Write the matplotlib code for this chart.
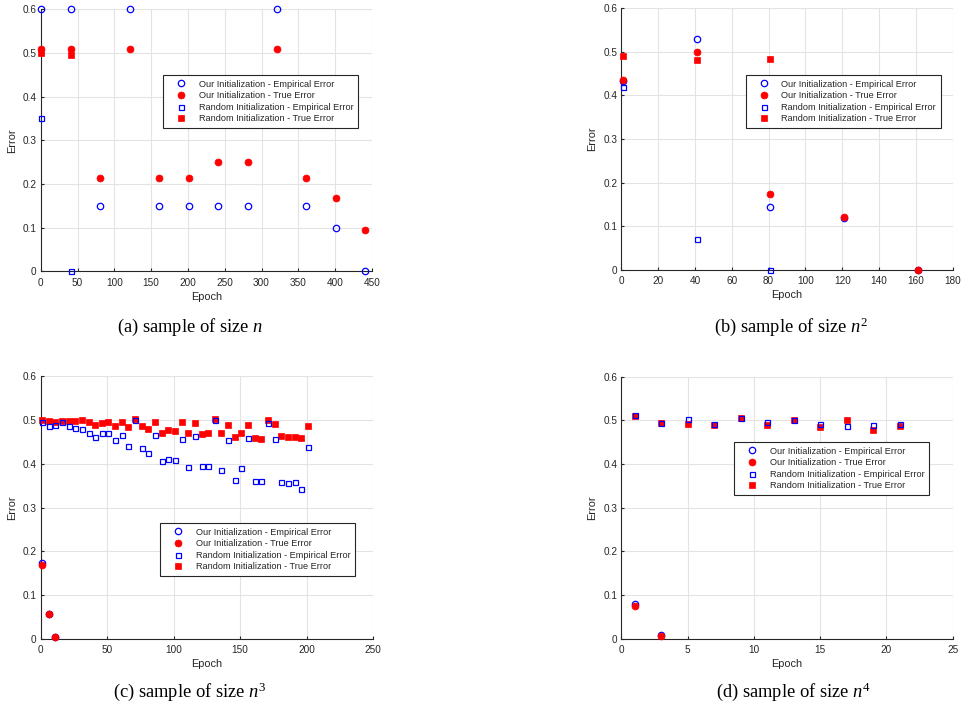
import matplotlib
matplotlib.use("Agg")
import matplotlib.pyplot as plt
from matplotlib.lines import Line2D

plt.rcParams['font.family'] = ['Liberation Sans', 'DejaVu Sans']
plt.rcParams['mathtext.fontset'] = 'custom'
plt.rcParams['mathtext.rm'] = 'Liberation Serif'
plt.rcParams['mathtext.it'] = 'Liberation Serif:italic'

# ---------------- data ----------------
# (a) sample of size n
our_epochs_a = [1, 41, 81, 121, 161, 201, 241, 281, 321, 361, 401, 441]
our_emp_a = [0.6, 0.6, 0.15, 0.6, 0.15, 0.15, 0.15, 0.15, 0.6, 0.15, 0.1, 0.0]
our_true_a = [0.51, 0.51, 0.214, 0.51, 0.214, 0.214, 0.251, 0.251, 0.51, 0.214, 0.167, 0.094]
rand_epochs_a = [1, 41]
rand_emp_a = [0.35, 0.0]
rand_true_a = [0.499, 0.496]

# (b) sample of size n^2
our_epochs_b = [1, 41, 81, 121, 161]
our_emp_b = [0.432, 0.53, 0.145, 0.12, 0.0]
our_true_b = [0.434, 0.50, 0.173, 0.121, 0.001]
rand_epochs_b = [1, 41, 81]
rand_emp_b = [0.418, 0.07, 0.0]
rand_true_b = [0.489, 0.480, 0.483]

# (c) sample of size n^3
our_epochs_c = [1, 6, 11]
our_emp_c = [0.173, 0.056, 0.005]
our_true_c = [0.169, 0.056, 0.005]
rand_epochs_c = [1, 6, 11, 16, 21, 26, 31, 36, 41, 46, 51, 56, 61, 66, 71, 76, 81,
                 86, 91, 96, 101, 106, 111, 116, 121, 126, 131, 136, 141, 146, 151,
                 156, 161, 166, 171, 176, 181, 186, 191, 196, 201]
rand_emp_c = [0.495, 0.485, 0.488, 0.495, 0.485, 0.482, 0.479, 0.470, 0.461, 0.469,
              0.471, 0.453, 0.466, 0.440, 0.500, 0.435, 0.425, 0.466, 0.405, 0.411,
              0.409, 0.457, 0.393, 0.462, 0.395, 0.394, 0.500, 0.385, 0.454, 0.363,
              0.390, 0.458, 0.360, 0.361, 0.493, 0.456, 0.358, 0.357, 0.358, 0.343,
              0.438]
rand_true_c = [0.499, 0.497, 0.496, 0.498, 0.497, 0.497, 0.499, 0.495, 0.489, 0.492,
               0.495, 0.487, 0.494, 0.483, 0.503, 0.486, 0.480, 0.494, 0.471, 0.477,
               0.474, 0.494, 0.470, 0.492, 0.468, 0.471, 0.502, 0.469, 0.489, 0.460,
               0.470, 0.489, 0.459, 0.456, 0.500, 0.490, 0.463, 0.460, 0.460, 0.458,
               0.487]

# (d) sample of size n^4
our_epochs_d = [1, 3]
our_emp_d = [0.079, 0.008]
our_true_d = [0.076, 0.007]
rand_epochs_d = [1, 3, 5, 7, 9, 11, 13, 15, 17, 19, 21]
rand_emp_d = [0.512, 0.495, 0.503, 0.491, 0.505, 0.496, 0.500, 0.492, 0.488, 0.490, 0.492]
rand_true_d = [0.511, 0.495, 0.491, 0.489, 0.505, 0.489, 0.501, 0.485, 0.501, 0.478, 0.486]

labels = ["Our Initialization - Empirical Error",
          "Our Initialization - True Error",
          "Random Initialization - Empirical Error",
          "Random Initialization - True Error"]
y_ticks = [0, 0.1, 0.2, 0.3, 0.4, 0.5, 0.6]
y_ticklabels = ["0", "0.1", "0.2", "0.3", "0.4", "0.5", "0.6"]
x_ticks_a = [0, 50, 100, 150, 200, 250, 300, 350, 400, 450]
x_ticks_b = [0, 20, 40, 60, 80, 100, 120, 140, 160, 180]
x_ticks_c = [0, 50, 100, 150, 200, 250]
x_ticks_d = [0, 5, 10, 15, 20, 25]
captions = ["(a) sample of size $n$", "(b) sample of size $n^2$",
            "(c) sample of size $n^3$", "(d) sample of size $n^4$"]

# ---------------- figure ----------------
W, H = 962, 719
fig = plt.figure(figsize=(W / 100, H / 100), dpi=100)

def px_axes(l, r, t, b):
    return fig.add_axes([l / W, 1 - b / H, (r - l) / W, (b - t) / H])

DARK = '#262626'
BLUE = (0, 0, 1)
RED = (1, 0, 0)

def draw(ax, oe, oemp, otrue, re, remp, rtrue, xticks, leg_xy):
    ax.plot(oe, oemp, linestyle='none', marker='o', ms=4.6, mfc='none', mec=BLUE,
            mew=0.9, clip_on=False, zorder=3)
    ax.plot(oe, otrue, linestyle='none', marker='o', ms=5.0, mfc=RED, mec=RED,
            mew=0.5, clip_on=False, zorder=4)
    ax.plot(re, rtrue, linestyle='none', marker='s', ms=4.0, mfc=RED, mec=RED,
            mew=0.5, clip_on=False, zorder=5)
    ax.plot(re, remp, linestyle='none', marker='s', ms=3.6, mfc='none', mec=BLUE,
            mew=0.9, clip_on=False, zorder=6)
    ax.set_xlim(xticks[0], xticks[-1])
    ax.set_ylim(0, 0.6)
    ax.set_xticks(xticks)
    ax.set_xticklabels([str(v) for v in xticks])
    ax.set_yticks(y_ticks)
    ax.set_yticklabels(y_ticklabels)
    ax.grid(True, color='#e3e3e3', linewidth=0.8)
    ax.set_axisbelow(True)
    for s in ['top', 'right']:
        ax.spines[s].set_visible(False)
    for s in ['left', 'bottom']:
        ax.spines[s].set_color(DARK)
        ax.spines[s].set_linewidth(0.8)
    ax.tick_params(direction='in', length=2.5, width=0.8, colors=DARK,
                   labelsize=7.2, labelcolor=DARK)
    ax.tick_params(axis='x', pad=4.5)
    ax.tick_params(axis='y', pad=3)
    ax.set_xlabel("Epoch", fontsize=7.9, color=DARK, labelpad=3)
    ax.set_ylabel("Error", fontsize=7.9, color=DARK, labelpad=4)

    handles = [
        Line2D([], [], linestyle='none', marker='o', ms=4.6, mfc='none', mec=BLUE, mew=0.9),
        Line2D([], [], linestyle='none', marker='o', ms=5.0, mfc=RED, mec=RED, mew=0.5),
        Line2D([], [], linestyle='none', marker='s', ms=3.6, mfc='none', mec=BLUE, mew=0.9),
        Line2D([], [], linestyle='none', marker='s', ms=4.0, mfc=RED, mec=RED, mew=0.5),
    ]
    leg = ax.legend(handles, labels, loc='upper left',
                    bbox_to_anchor=(leg_xy[0] / W, 1 - leg_xy[1] / H),
                    bbox_transform=fig.transFigure, fontsize=6.6, numpoints=1,
                    handlelength=3.0, handletextpad=0.4, borderpad=0.5,
                    labelspacing=0.28, borderaxespad=0, fancybox=False,
                    framealpha=1, edgecolor=DARK)
    leg.get_frame().set_linewidth(0.8)
    for t in leg.get_texts():
        t.set_color(DARK)
    leg.set_zorder(10)

ax_a = px_axes(40.7, 372, 9.3, 271.3)
draw(ax_a, our_epochs_a, our_emp_a, our_true_a, rand_epochs_a, rand_emp_a, rand_true_a,
     x_ticks_a, (163, 75))
ax_b = px_axes(621.3, 952.7, 8, 270)
draw(ax_b, our_epochs_b, our_emp_b, our_true_b, rand_epochs_b, rand_emp_b, rand_true_b,
     x_ticks_b, (745.7, 75))
ax_c = px_axes(40.7, 373, 376, 639)
draw(ax_c, our_epochs_c, our_emp_c, our_true_c, rand_epochs_c, rand_emp_c, rand_true_c,
     x_ticks_c, (160, 523))
ax_d = px_axes(621.3, 952.7, 376.7, 638.7)
draw(ax_d, our_epochs_d, our_emp_d, our_true_d, rand_epochs_d, rand_emp_d, rand_true_d,
     x_ticks_d, (734, 442))

cap_pos = [(190, 327), (791, 327), (190, 692), (793, 692)]
for (cx, cy), cap in zip(cap_pos, captions):
    fig.text(cx / W, 1 - cy / H, cap, ha='center', va='center', fontsize=13.3,
             family=['Liberation Serif', 'DejaVu Serif'], color='black')

fig.savefig("out.png", dpi=100)
